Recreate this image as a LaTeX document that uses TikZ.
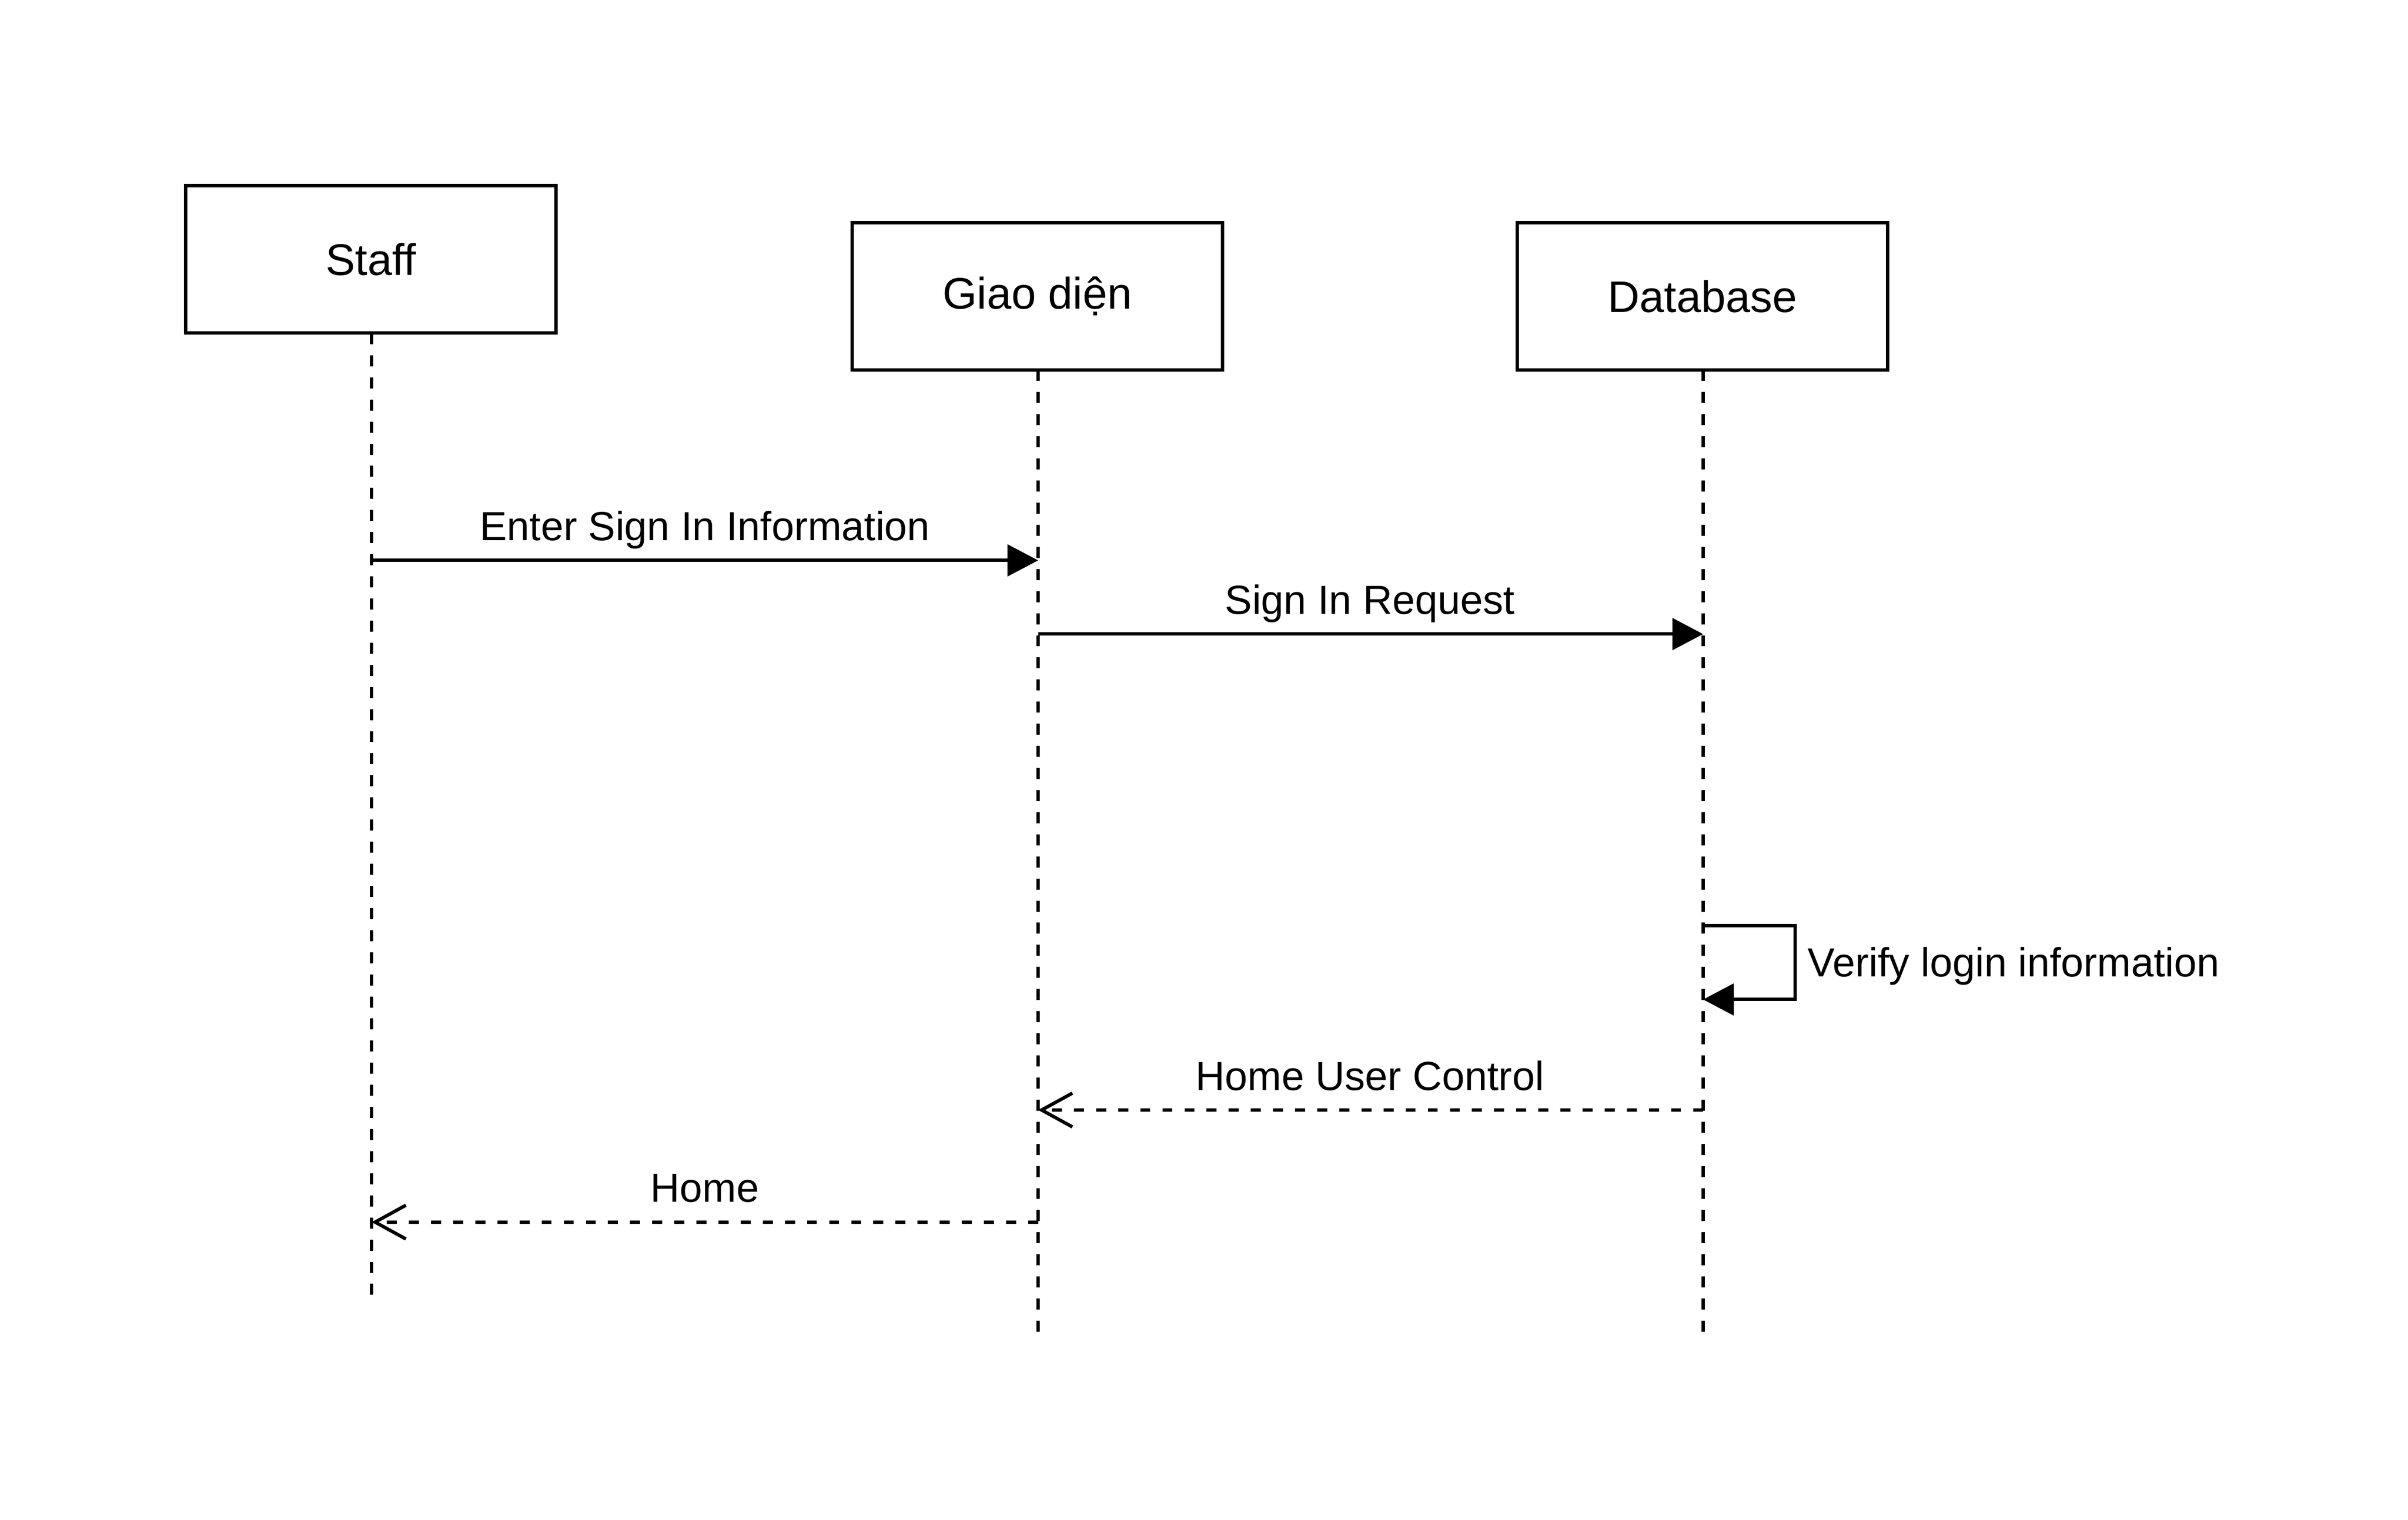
\documentclass[tikz,border=0pt]{standalone}
\usepackage{fontspec}
\setmainfont{Liberation Sans}
\usetikzlibrary{arrows.meta}
\begin{document}
\begin{tikzpicture}[x=1pt,y=-1pt,
  every node/.style={font=\fontsize{26.5}{30}\selectfont, inner sep=0pt, text=black},
  actor/.style={draw=black, line width=2.2pt, minimum width=241pt, minimum height=96pt, fill=white, font=\fontsize{28.8}{32}\selectfont},
  lifeline/.style={line width=2.2pt, dash pattern=on 7.2pt off 7.2pt},
  syncmsg/.style={line width=2.2pt, -{Triangle[length=20pt,width=20.5pt]}},
  retmsg/.style={line width=2.2pt, dash pattern=on 6.5pt off 7.9pt, -{Straight Barb[length=20pt,width=22pt,line width=2.2pt]}},
  msglabel/.style={anchor=base}]
\useasboundingbox (0,0) rectangle (1568,990);
% lifelines
\coordinate (sEnd) at (242,845);
\coordinate (gEnd) at (676,868);
\coordinate (dEnd) at (1109,868);
\draw[lifeline] (242,217) -- (sEnd);
\draw[lifeline] (676,241) -- (gEnd);
\draw[lifeline] (1109,241) -- (dEnd);
% actors
\node[actor] (staff) at (241.5,169) {Staff};
\node[actor] (giao) at (675.5,193) {Giao diện};
\node[actor] (db) at (1108.5,193) {Database};
% message anchor points
\coordinate (s1) at (242,365);
\coordinate (g1) at (676,365);
\coordinate (g2) at (676,413);
\coordinate (d2) at (1109,413);
\coordinate (d3a) at (1109,603);
\coordinate (d3b) at (1109,651);
\coordinate (d4) at (1109,723);
\coordinate (g4) at (676,723);
\coordinate (g5) at (676,796);
\coordinate (s5) at (242,796);
% messages
\draw[syncmsg] (s1) -- (g1);
\node[msglabel] (l1) at (459,352) {Enter Sign In Information};
\draw[syncmsg] (g2) -- (d2);
\node[msglabel] (l2) at (892,400) {Sign In Request};
\draw[syncmsg] (d3a) -- (1169,603) -- (1169,651) -- (d3b);
\node[anchor=base west] (l3) at (1177,636) {Verify login information};
\draw[retmsg] (d4) -- (g4);
\node[msglabel] (l4) at (892,710) {Home User Control};
\draw[retmsg] (g5) -- (s5);
\node[msglabel] (l5) at (459,783) {Home};
\end{tikzpicture}
\end{document}
